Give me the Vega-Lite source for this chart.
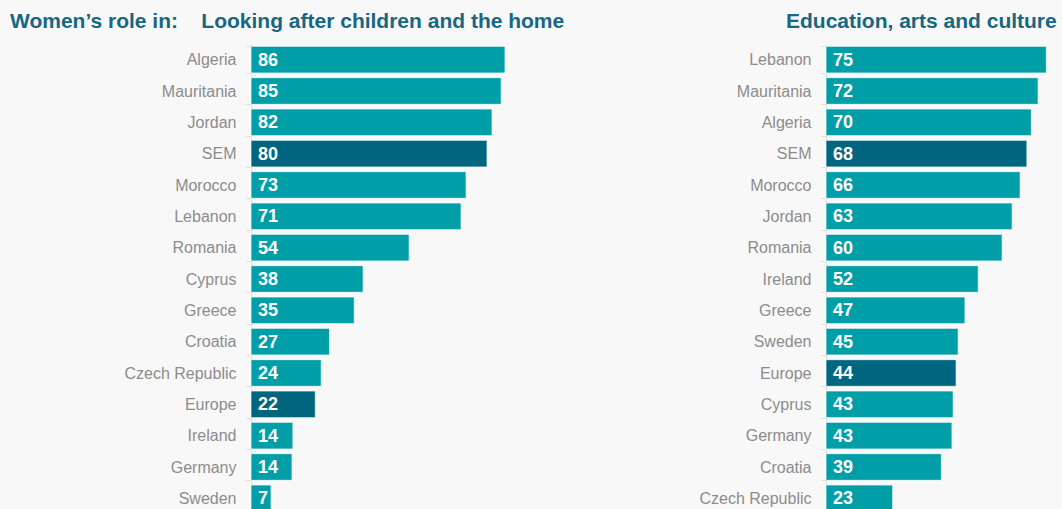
{
  "$schema": "https://vega.github.io/schema/vega-lite/v6.json",
  "autosize": "none",
  "padding": {"left": 251, "top": 44, "right": 811, "bottom": 465},
  "background": "#f8f8f8",
  "bounds": "flush",
  "spacing": 280,
  "config": {"view": {"stroke": null}, "font": "Liberation Sans"},
  "datasets": {
    "care": [
      {"country": "Algeria", "value": 86.1},
      {"country": "Mauritania", "value": 84.8},
      {"country": "Jordan", "value": 81.7},
      {"country": "SEM", "value": 80.0},
      {"country": "Morocco", "value": 72.9},
      {"country": "Lebanon", "value": 71.2},
      {"country": "Romania", "value": 53.6},
      {"country": "Cyprus", "value": 38.0},
      {"country": "Greece", "value": 35.0},
      {"country": "Croatia", "value": 26.6},
      {"country": "Czech Republic", "value": 23.8},
      {"country": "Europe", "value": 21.8},
      {"country": "Ireland", "value": 14.2},
      {"country": "Germany", "value": 13.9},
      {"country": "Sweden", "value": 6.8}
    ],
    "culture": [
      {"country": "Lebanon", "value": 74.7},
      {"country": "Mauritania", "value": 71.9},
      {"country": "Algeria", "value": 69.6},
      {"country": "SEM", "value": 68.1},
      {"country": "Morocco", "value": 65.8},
      {"country": "Jordan", "value": 63.1},
      {"country": "Romania", "value": 59.7},
      {"country": "Ireland", "value": 51.6},
      {"country": "Greece", "value": 47.1},
      {"country": "Sweden", "value": 44.8},
      {"country": "Europe", "value": 44.1},
      {"country": "Cyprus", "value": 43.1},
      {"country": "Germany", "value": 42.7},
      {"country": "Croatia", "value": 39.1},
      {"country": "Czech Republic", "value": 22.6}
    ]
  },
  "hconcat": [
    {
      "width": 295,
      "height": 470,
      "data": {"name": "care"},
      "title": {
        "text": "Women’s role in:\u00a0\u00a0\u00a0\u00a0Looking after children and the home",
        "anchor": "start", "frame": "group", "dx": -241, "dy": 29, "offset": 16,
        "baseline": "alphabetic", "fontSize": 21, "fontWeight": "bold",
        "color": "#176782", "font": "Liberation Sans"
      },
      "encoding": {
        "y": {
          "field": "country", "type": "nominal", "sort": null,
          "scale": {"paddingInner": 0.15, "paddingOuter": 0.075},
          "axis": {
            "title": null, "labelFontSize": 16, "labelColor": "#8c8c8c",
            "labelFont": "Liberation Sans", "tickSize": 5, "tickColor": "#dddddd",
            "domainColor": "#dddddd", "labelPadding": 10, "tickBand": "extent"
          }
        }
      },
      "layer": [
        {
          "mark": {"type": "bar", "stroke": "#ffffff", "strokeWidth": 1, "strokeOpacity": 0.7},
          "encoding": {
            "x": {"field": "value", "type": "quantitative", "scale": {"domain": [0, 100]}, "axis": null},
            "color": {"condition": {"test": "datum.country === 'SEM' || datum.country === 'Europe'", "value": "#00667f"}, "value": "#009ea7"}
          }
        },
        {
          "mark": {"type": "text", "align": "left", "baseline": "middle", "dx": 7, "dy": 1, "fontWeight": "bold", "fontSize": 18, "color": "#ffffff", "font": "Liberation Sans"},
          "encoding": {
            "x": {"datum": 0, "type": "quantitative"},
            "text": {"field": "value", "type": "quantitative", "format": ".0f"}
          }
        }
      ]
    },
    {
      "width": 295,
      "height": 470,
      "data": {"name": "culture"},
      "title": {
        "text": "Education, arts and culture",
        "anchor": "start", "frame": "group", "dx": -40, "dy": 29, "offset": 16,
        "baseline": "alphabetic", "fontSize": 21, "fontWeight": "bold",
        "color": "#176782", "font": "Liberation Sans"
      },
      "encoding": {
        "y": {
          "field": "country", "type": "nominal", "sort": null,
          "scale": {"paddingInner": 0.15, "paddingOuter": 0.075},
          "axis": {
            "title": null, "labelFontSize": 16, "labelColor": "#8c8c8c",
            "labelFont": "Liberation Sans", "tickSize": 5, "tickColor": "#dddddd",
            "domainColor": "#dddddd", "labelPadding": 10, "tickBand": "extent"
          }
        }
      },
      "layer": [
        {
          "mark": {"type": "bar", "stroke": "#ffffff", "strokeWidth": 1, "strokeOpacity": 0.7},
          "encoding": {
            "x": {"field": "value", "type": "quantitative", "scale": {"domain": [0, 100]}, "axis": null},
            "color": {"condition": {"test": "datum.country === 'SEM' || datum.country === 'Europe'", "value": "#00667f"}, "value": "#009ea7"}
          }
        },
        {
          "mark": {"type": "text", "align": "left", "baseline": "middle", "dx": 7, "dy": 1, "fontWeight": "bold", "fontSize": 18, "color": "#ffffff", "font": "Liberation Sans"},
          "encoding": {
            "x": {"datum": 0, "type": "quantitative"},
            "text": {"field": "value", "type": "quantitative", "format": ".0f"}
          }
        }
      ]
    }
  ]
}
